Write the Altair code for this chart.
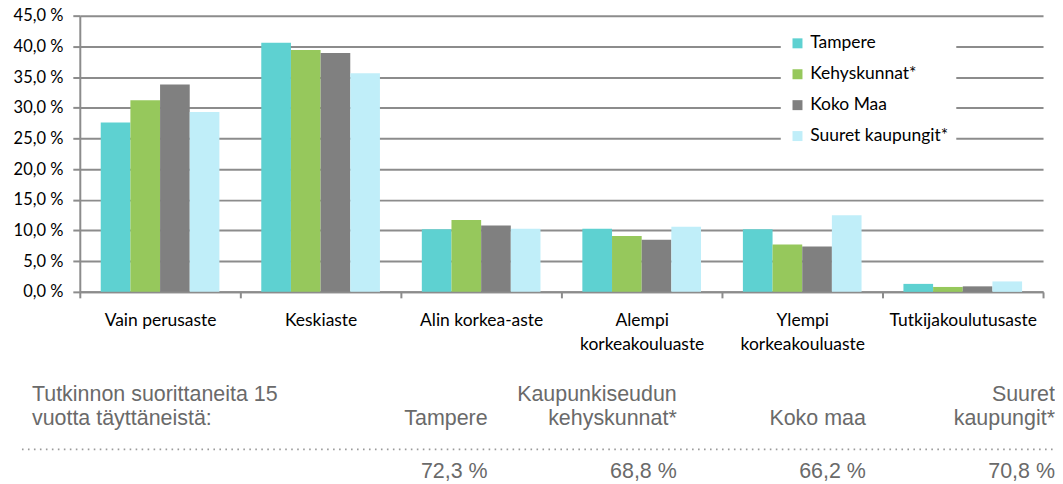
import altair as alt
import pandas as pd

categories = ["Vain perusaste", "Keskiaste", "Alin korkea-aste",
              "Alempi\nkorkeakouluaste", "Ylempi\nkorkeakouluaste", "Tutkijakoulutusaste"]
series = ["Tampere", "Kehyskunnat*", "Koko Maa", "Suuret kaupungit*"]
tampere = [27.6, 40.6, 10.2, 10.3, 10.2, 1.3]
kehyskunnat = [31.2, 39.4, 11.7, 9.1, 7.7, 0.8]
koko_maa = [33.8, 38.9, 10.8, 8.5, 7.4, 0.9]
suuret = [29.3, 35.6, 10.3, 10.6, 12.5, 1.7]
colors = ["#5ed1d1", "#96c85c", "#808080", "#c0eef9"]

y_ticks = [0, 5, 10, 15, 20, 25, 30, 35, 40, 45]

table_intro = ["Tutkinnon suorittaneita 15", "vuotta täyttäneistä:"]
table_line1 = ["", "Kaupunkiseudun", "", "Suuret"]
table_line2 = ["Tampere", "kehyskunnat*", "Koko maa", "kaupungit*"]
table_shares = [72.3, 68.8, 66.2, 70.8]

rows = []
for s, vals in zip(series, [tampere, kehyskunnat, koko_maa, suuret]):
    for c, v in zip(categories, vals):
        rows.append({"category": c, "series": s, "value": v})
df = pd.DataFrame(rows)

GRID = "#8c8c8c"
CHART_FONT = "Lato"
TABLE_FONT = "Liberation Sans"
TABLE_COLOR = "#6a6a6a"

bars = alt.Chart(df).mark_bar().encode(
    x=alt.X("category:N", sort=categories,
            scale=alt.Scale(paddingInner=0, paddingOuter=0),
            axis=alt.Axis(title=None, labelAngle=0, tickBand="extent",
                          labelExpr="split(datum.label, '\\n')",
                          labelFont=CHART_FONT, labelFontSize=17.5, labelColor="#000000",
                          labelLineHeight=24, labelPadding=14, labelBaseline="top",
                          domainColor=GRID, domainWidth=2, tickColor=GRID, tickWidth=2,
                          tickSize=6, grid=False)),
    xOffset=alt.XOffset("series:N", sort=series,
                        scale=alt.Scale(paddingInner=0, paddingOuter=0.706)),
    y=alt.Y("value:Q", scale=alt.Scale(domain=[0, 45], nice=False),
            axis=alt.Axis(title=None, values=y_ticks,
                          labelExpr="replace(format(datum.value, '.1f'), '.', ',') + ' %'",
                          labelFont=CHART_FONT, labelFontSize=16.5, labelColor="#000000",
                          labelPadding=10, domainColor=GRID, domainWidth=2,
                          tickColor=GRID, tickWidth=2, tickSize=7,
                          grid=True, gridColor=GRID, gridWidth=2)),
    color=alt.Color("series:N", sort=series,
                    scale=alt.Scale(domain=series, range=colors),
                    legend=alt.Legend(title=None, orient="none", legendX=703, legendY=11,
                                      fillColor="white", padding=8, symbolType="square",
                                      symbolSize=100, symbolStrokeWidth=0,
                                      labelFont=CHART_FONT, labelFontSize=17.5,
                                      labelColor="#000000", rowPadding=12, labelOffset=4)),
)

col_scale = alt.Scale(domain=[0, 3], range=[409, 978])
line_scale = alt.Scale(domain=[0, 1], range=[386, 411])

intro_df = pd.DataFrame({"text": table_intro, "line": [0, 1]})
intro = alt.Chart(intro_df).mark_text(
    align="left", baseline="alphabetic", font=TABLE_FONT, fontSize=21.5, color=TABLE_COLOR
).encode(
    x=alt.value(-48),
    y=alt.Y("line:Q", scale=line_scale, axis=None),
    text="text:N",
)

head_rows = []
for i, (a, b) in enumerate(zip(table_line1, table_line2)):
    head_rows.append({"col": i, "line": 0, "text": a})
    head_rows.append({"col": i, "line": 1, "text": b})
head_df = pd.DataFrame(head_rows)
header = alt.Chart(head_df).mark_text(
    align="right", baseline="alphabetic", font=TABLE_FONT, fontSize=21.5, color=TABLE_COLOR
).encode(
    x=alt.X("col:Q", scale=col_scale, axis=None),
    y=alt.Y("line:Q", scale=line_scale, axis=None),
    text="text:N",
)

val_df = pd.DataFrame({"col": [0, 1, 2, 3], "share": table_shares})
values = alt.Chart(val_df).transform_calculate(
    label="replace(format(datum.share, '.1f'), '.', ',') + ' %'"
).mark_text(
    align="right", baseline="alphabetic", font=TABLE_FONT, fontSize=21.5, color=TABLE_COLOR
).encode(
    x=alt.X("col:Q", scale=col_scale, axis=None),
    y=alt.value(464),
    text="label:N",
)

dots = alt.Chart(pd.DataFrame({"a": [0]})).mark_rule(
    color="#9a9a9a", strokeWidth=1.6, strokeDash=[1.6, 4.4]
).encode(x=alt.value(-58), x2=alt.value(978), y=alt.value(435))

chart = alt.layer(bars, dots, intro, header, values).resolve_scale(
    x="independent", y="independent"
).properties(
    width=966, height=277,
    autosize=alt.AutoSizeParams(type="none"),
    padding={"left": 72, "top": 7, "right": 12, "bottom": 190},
    background="white",
).configure_view(stroke=None)

chart.save("out.html", embed_options={"renderer": "svg", "actions": False})
